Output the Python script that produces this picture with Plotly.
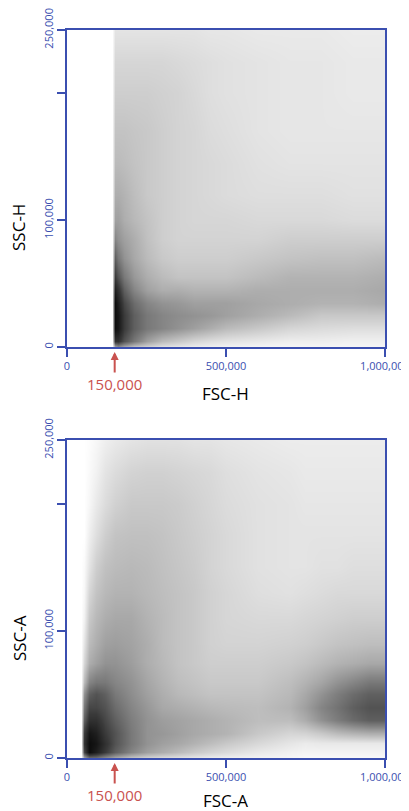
import plotly.graph_objects as go

# density (0 = empty, 10 = solid black)
# axis positions are in thousands
fsch_x = [0, 140, 150, 160, 180, 210, 250, 300, 350, 400, 450, 500, 600, 700, 800, 900, 1000]
fsch_y = [0, 5, 15, 25, 35, 45, 55, 70, 85, 100, 120, 145, 170, 200, 225, 250]
fsch_z = [
    [0, 0, 3, 4, 3, 2, 1.5, 1, 0.8, 0.6, 0.5, 0.4, 0.3, 0.3, 0.3, 0.3, 0.3],
    [0, 0, 8, 8, 6.5, 5, 3.5, 2.5, 2, 1.5, 1.2, 1, 0.8, 0.6, 0.6, 0.5, 0.5],
    [0, 0, 10, 9.5, 7.5, 6, 5, 4.5, 4, 3.5, 3, 2.5, 2, 1.5, 1.3, 1.2, 1.2],
    [0, 0, 10, 9.5, 7.5, 6, 5, 4.5, 4.2, 4, 3.8, 3.5, 3, 2.5, 2, 2, 2],
    [0, 0, 10, 9, 7, 5.5, 4.5, 4, 3.8, 3.5, 3.5, 3.5, 3.2, 3, 2.8, 2.8, 3],
    [0, 0, 9, 8, 6, 4.5, 3.5, 3, 3, 2.8, 2.8, 2.8, 3, 3, 3, 3, 3.2],
    [0, 0, 7.5, 6.5, 5, 3.8, 3, 2.5, 2.2, 2.2, 2.2, 2.2, 2.5, 2.8, 2.8, 2.8, 3],
    [0, 0, 6, 5, 4, 3.2, 2.5, 2, 1.8, 1.8, 1.8, 1.8, 2, 2.2, 2.3, 2.3, 2.5],
    [0, 0, 4.5, 4, 3.5, 3, 2.3, 1.8, 1.6, 1.6, 1.6, 1.6, 1.6, 1.8, 1.8, 1.8, 1.8],
    [0, 0, 3.5, 3.5, 3, 2.6, 2.2, 1.8, 1.6, 1.5, 1.5, 1.5, 1.4, 1.4, 1.4, 1.3, 1.3],
    [0, 0, 3, 3, 2.8, 2.4, 2, 1.8, 1.6, 1.5, 1.4, 1.3, 1.2, 1.2, 1.2, 1.1, 1.1],
    [0, 0, 2.5, 2.5, 2.4, 2.2, 2, 1.8, 1.6, 1.5, 1.4, 1.3, 1.1, 1, 1, 1, 1],
    [0, 0, 2.2, 2.2, 2.2, 2.1, 2, 1.8, 1.6, 1.5, 1.3, 1.2, 1, 0.9, 0.9, 0.9, 0.9],
    [0, 0, 1.8, 1.8, 1.8, 1.8, 1.8, 1.7, 1.6, 1.4, 1.2, 1.1, 1, 0.9, 0.9, 0.8, 0.8],
    [0, 0, 1.5, 1.5, 1.5, 1.5, 1.5, 1.5, 1.4, 1.3, 1.2, 1.1, 1, 0.9, 0.9, 0.8, 0.8],
    [0, 0, 1, 1, 1, 1, 1, 1, 1, 1, 0.9, 0.9, 0.8, 0.8, 0.8, 0.7, 0.7],
]

fsca_x = [0, 45, 55, 70, 90, 120, 150, 200, 250, 300, 350, 400, 450, 500, 600, 700, 750, 800, 850, 900, 950, 1000]
fsca_y = [0, 5, 12, 20, 30, 40, 50, 60, 75, 90, 110, 130, 150, 175, 200, 225, 250]
fsca_z = [
    [0, 0, 3, 5, 5, 4, 3, 2, 1.5, 1.2, 1, 0.8, 0.6, 0.5, 0.4, 0.3, 0.2, 0.2, 0.2, 0.2, 0.2, 0.2],
    [0, 0, 7, 10, 9, 7.5, 6, 4.5, 3.5, 3, 2.5, 2, 1.6, 1.3, 0.8, 0.5, 0.4, 0.4, 0.4, 0.4, 0.4, 0.4],
    [0, 0, 8, 10, 9.5, 8, 6.5, 5, 4, 3.5, 3.2, 2.8, 2.4, 2, 1.4, 0.9, 0.7, 0.8, 0.8, 0.8, 0.8, 0.8],
    [0, 0, 7.5, 9.5, 9, 7.5, 6.5, 5, 4, 3.8, 3.5, 3.2, 3, 2.8, 2, 1.5, 1.6, 2, 2.5, 2.8, 3, 3],
    [0, 0, 6, 8, 8, 7, 6, 4.8, 4, 3.6, 3.4, 3.2, 3, 2.8, 2.4, 2.4, 3, 4, 4.8, 5.5, 6, 6],
    [0, 0, 5, 7, 7, 6.5, 5.5, 4.5, 3.8, 3.2, 3, 2.8, 2.6, 2.5, 2.4, 2.8, 3.5, 4.5, 5.2, 6, 6.5, 6.5],
    [0, 0, 4, 6, 6.5, 6, 5, 4.2, 3.5, 3, 2.6, 2.4, 2.2, 2.2, 2.2, 2.6, 3.2, 4, 4.8, 5.5, 6, 6],
    [0, 0, 2.5, 4.5, 5, 5, 4.5, 4, 3.3, 2.8, 2.4, 2.2, 2, 2, 2, 2.4, 2.8, 3.3, 4, 4.5, 5, 5],
    [0, 0, 1.5, 3, 3.5, 4, 4, 3.6, 3, 2.6, 2.2, 2, 1.8, 1.8, 1.8, 2, 2.2, 2.5, 2.8, 3, 3.2, 3.2],
    [0, 0, 1, 2.5, 3, 3.5, 3.6, 3.4, 3, 2.5, 2.2, 2, 1.7, 1.6, 1.6, 1.7, 1.8, 2, 2.2, 2.3, 2.4, 2.4],
    [0, 0, 0.5, 2, 2.6, 3, 3.2, 3.2, 2.8, 2.5, 2.2, 2, 1.7, 1.5, 1.4, 1.4, 1.5, 1.6, 1.7, 1.8, 1.8, 1.8],
    [0, 0, 0.3, 1.5, 2.2, 2.6, 2.8, 2.8, 2.6, 2.4, 2.2, 2, 1.7, 1.5, 1.2, 1.1, 1.2, 1.3, 1.4, 1.4, 1.4, 1.4],
    [0, 0, 0.2, 1, 1.8, 2.3, 2.5, 2.6, 2.5, 2.3, 2.1, 1.9, 1.6, 1.4, 1.1, 1, 1, 1.1, 1.1, 1.2, 1.2, 1.2],
    [0, 0, 0, 0.6, 1.2, 1.8, 2.2, 2.3, 2.3, 2.2, 2, 1.8, 1.6, 1.4, 1.1, 1, 1, 1, 1, 1, 1, 1],
    [0, 0, 0, 0.3, 0.8, 1.3, 1.7, 2, 2, 2, 1.9, 1.7, 1.5, 1.3, 1.1, 1, 0.9, 0.9, 0.9, 0.9, 0.9, 0.9],
    [0, 0, 0, 0.2, 0.5, 1, 1.3, 1.6, 1.7, 1.7, 1.6, 1.5, 1.4, 1.2, 1, 0.9, 0.8, 0.8, 0.8, 0.8, 0.8, 0.8],
    [0, 0, 0, 0.1, 0.3, 0.6, 0.8, 1, 1.1, 1.1, 1.1, 1, 1, 0.9, 0.8, 0.7, 0.7, 0.7, 0.7, 0.7, 0.7, 0.7],
]

x_ticks = [0, 500000, 1000000]
x_labels = ["0", "500,000", "1,000,000"]
y_ticks = [0, 100000, 200000, 250000]
y_labels = ["0", "100,000", "", "250,000"]
gate = 150000

blue = "#3b4fb0"
red = "#c9524f"
grey = [[0, "#ffffff"], [0.15, "#d6d6d6"], [0.45, "#858585"], [0.75, "#3a3a3a"], [1, "#0d0d0d"]]

fig = go.Figure()
for xs, ys, zs, n in [(fsch_x, fsch_y, fsch_z, ""), (fsca_x, fsca_y, fsca_z, "2")]:
    fig.add_trace(go.Heatmap(
        x=[v * 1000 for v in xs], y=[v * 1000 for v in ys], z=zs,
        zmin=0, zmax=10, colorscale=grey, zsmooth="best",
        showscale=False, hoverinfo="skip",
        xaxis="x" + n, yaxis="y" + n,
    ))

ax_style = dict(showline=True, linecolor=blue, linewidth=2, mirror=True,
                ticks="outside", ticklen=8, tickwidth=2, tickcolor=blue,
                showgrid=False, zeroline=False, automargin=False,
                ticklabeloverflow="allow",
                tickfont=dict(family="Open Sans", size=11, color=blue))
xs_style = dict(ax_style, range=[0, 1000000], tickvals=x_ticks, ticktext=x_labels)
ys_style = dict(ax_style, range=[0, 250000], tickvals=y_ticks, ticktext=y_labels, tickangle=-90)

# the page puts the plot 8px in from the top-left corner
top_dom = [0.5778, 0.9726]
bot_dom = [0.0660, 0.4620]
fig.update_layout(
    width=401, height=803, autosize=False,
    margin=dict(l=0, r=0, t=0, b=0),
    paper_bgcolor="white", plot_bgcolor="white",
    showlegend=False,
    xaxis=dict(xs_style, domain=[0.1471, 0.9401], anchor="y"),
    yaxis=dict(ys_style, domain=top_dom, anchor="x"),
    xaxis2=dict(xs_style, domain=[0.1471, 0.9401], anchor="y2"),
    yaxis2=dict(ys_style, domain=bot_dom, anchor="x2"),
)

title_font = dict(family="Open Sans", size=17, color="black")
for n, xt, yt, dom, drop, ymid in [("", "FSC-H", "SSC-H", top_dom, -46, 0.7273),
                                    ("2", "FSC-A", "SSC-A", bot_dom, -42, 0.2154)]:
    fig.add_annotation(x=0.5, xref="x" + n + " domain", y=dom[0], yref="paper",
                       yshift=drop, xanchor="center", yanchor="middle",
                       text=xt, showarrow=False, font=title_font)
    fig.add_annotation(x=0.0274, xref="paper", y=ymid, yref="paper",
                       xanchor="center", yanchor="middle",
                       text=yt, textangle=-90, showarrow=False, font=title_font)
    fig.add_annotation(x=gate, xref="x" + n, y=0, yref="y" + n,
                       text="150,000", font=dict(family="Open Sans", size=15, color=red),
                       showarrow=True, arrowhead=2, arrowsize=0.8, arrowwidth=2,
                       arrowcolor=red, ax=0, ay=37, standoff=5)

fig.write_html("out.html")
